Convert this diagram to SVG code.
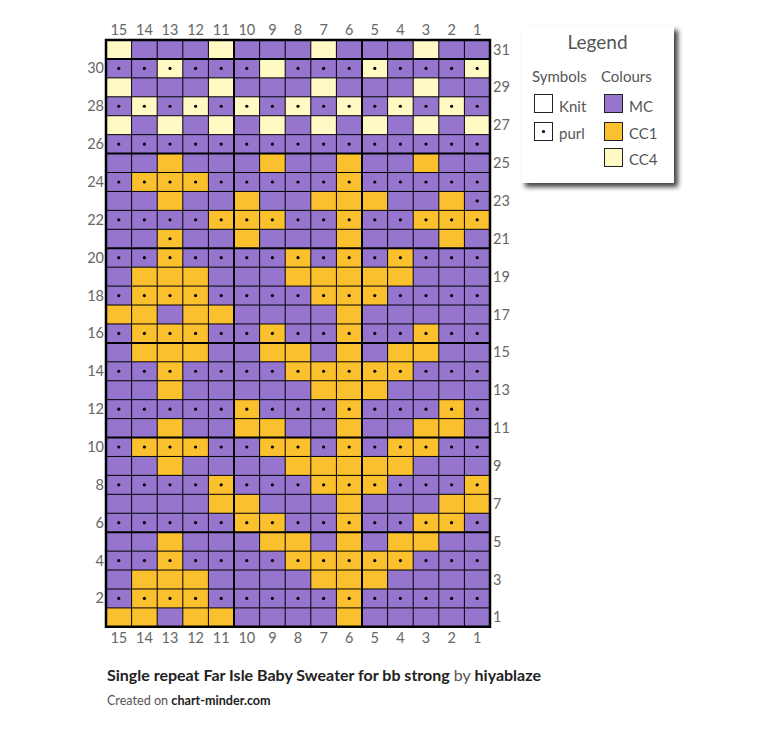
<svg xmlns="http://www.w3.org/2000/svg" xmlns:xlink="http://www.w3.org/1999/xlink" width="764" height="731" viewBox="0 0 764 731">
<style>
.o{fill:#FBC02D}
.y{fill:#FFF9C4}
.lbl{font-family:Lato,"Open Sans",sans-serif;font-size:14.5px;fill:#666}
.lt{font-family:Lato,"Open Sans",sans-serif;fill:#555}
.thin{fill:none;stroke:#000;stroke-width:1}
.thick{fill:none;stroke:#000;stroke-width:2}
.box{stroke:#222;stroke-width:1}
</style>
<defs>
<ellipse id="d" cx="0" cy="0" rx="0.0625" ry="0.0845" fill="#000"/>
<g id="dr">
<use xlink:href="#d" x="0.5" y="0.5"/><use xlink:href="#d" x="1.5" y="0.5"/><use xlink:href="#d" x="2.5" y="0.5"/><use xlink:href="#d" x="3.5" y="0.5"/><use xlink:href="#d" x="4.5" y="0.5"/><use xlink:href="#d" x="5.5" y="0.5"/><use xlink:href="#d" x="6.5" y="0.5"/><use xlink:href="#d" x="7.5" y="0.5"/><use xlink:href="#d" x="8.5" y="0.5"/><use xlink:href="#d" x="9.5" y="0.5"/><use xlink:href="#d" x="10.5" y="0.5"/><use xlink:href="#d" x="11.5" y="0.5"/><use xlink:href="#d" x="12.5" y="0.5"/><use xlink:href="#d" x="13.5" y="0.5"/><use xlink:href="#d" x="14.5" y="0.5"/>
</g>
<filter id="sh" x="-20%" y="-20%" width="150%" height="150%">
<feDropShadow dx="4" dy="4" stdDeviation="2.5" flood-color="#000" flood-opacity="0.75"/>
</filter>
</defs>
<rect width="764" height="731" fill="#fff"/>
<g id="chart" transform="translate(106,40) scale(25.6,18.93)">
<rect x="0" y="0" width="15" height="31" fill="#9575CD"/>
<g id="cells">
<rect class="y" x="0" y="0" width="1" height="1"/><rect class="y" x="4" y="0" width="1" height="1"/><rect class="y" x="8" y="0" width="1" height="1"/><rect class="y" x="12" y="0" width="1" height="1"/>
<rect class="y" x="2" y="1" width="1" height="1"/><rect class="y" x="6" y="1" width="1" height="1"/><rect class="y" x="10" y="1" width="1" height="1"/><rect class="y" x="14" y="1" width="1" height="1"/>
<rect class="y" x="0" y="2" width="1" height="1"/><rect class="y" x="4" y="2" width="1" height="1"/><rect class="y" x="8" y="2" width="1" height="1"/><rect class="y" x="12" y="2" width="1" height="1"/>
<rect class="y" x="1" y="3" width="1" height="1"/><rect class="y" x="3" y="3" width="1" height="1"/><rect class="y" x="5" y="3" width="1" height="1"/><rect class="y" x="7" y="3" width="1" height="1"/><rect class="y" x="9" y="3" width="1" height="1"/><rect class="y" x="11" y="3" width="1" height="1"/><rect class="y" x="13" y="3" width="1" height="1"/>
<rect class="y" x="0" y="4" width="1" height="1"/><rect class="y" x="2" y="4" width="1" height="1"/><rect class="y" x="4" y="4" width="1" height="1"/><rect class="y" x="6" y="4" width="1" height="1"/><rect class="y" x="8" y="4" width="1" height="1"/><rect class="y" x="10" y="4" width="1" height="1"/><rect class="y" x="12" y="4" width="1" height="1"/><rect class="y" x="14" y="4" width="1" height="1"/>
<rect class="o" x="9" y="6" width="1" height="25"/>
<rect class="o" x="2" y="6" width="1" height="1"/><rect class="o" x="6" y="6" width="1" height="1"/><rect class="o" x="12" y="6" width="1" height="1"/>
<rect class="o" x="1" y="7" width="3" height="1"/>
<rect class="o" x="2" y="8" width="1" height="1"/><rect class="o" x="5" y="8" width="1" height="1"/><rect class="o" x="8" y="8" width="3" height="1"/><rect class="o" x="13" y="8" width="1" height="1"/>
<rect class="o" x="4" y="9" width="3" height="1"/><rect class="o" x="12" y="9" width="3" height="1"/>
<rect class="o" x="2" y="10" width="1" height="1"/><rect class="o" x="5" y="10" width="1" height="1"/><rect class="o" x="13" y="10" width="1" height="1"/>
<rect class="o" x="2" y="11" width="1" height="1"/><rect class="o" x="7" y="11" width="1" height="1"/><rect class="o" x="11" y="11" width="1" height="1"/>
<rect class="o" x="1" y="12" width="3" height="1"/><rect class="o" x="7" y="12" width="5" height="1"/>
<rect class="o" x="1" y="13" width="3" height="1"/><rect class="o" x="8" y="13" width="3" height="1"/>
<rect class="o" x="0" y="14" width="2" height="1"/><rect class="o" x="3" y="14" width="2" height="1"/>
<rect class="o" x="1" y="15" width="3" height="1"/><rect class="o" x="6" y="15" width="1" height="1"/><rect class="o" x="12" y="15" width="1" height="1"/>
<rect class="o" x="1" y="16" width="3" height="1"/><rect class="o" x="6" y="16" width="2" height="1"/><rect class="o" x="11" y="16" width="2" height="1"/>
<rect class="o" x="2" y="17" width="1" height="1"/><rect class="o" x="7" y="17" width="5" height="1"/>
<rect class="o" x="2" y="18" width="1" height="1"/><rect class="o" x="8" y="18" width="3" height="1"/>
<rect class="o" x="5" y="19" width="1" height="1"/><rect class="o" x="13" y="19" width="1" height="1"/>
<rect class="o" x="2" y="20" width="1" height="1"/><rect class="o" x="5" y="20" width="2" height="1"/><rect class="o" x="12" y="20" width="2" height="1"/>
<rect class="o" x="1" y="21" width="3" height="1"/><rect class="o" x="6" y="21" width="2" height="1"/><rect class="o" x="11" y="21" width="2" height="1"/>
<rect class="o" x="2" y="22" width="1" height="1"/><rect class="o" x="7" y="22" width="5" height="1"/>
<rect class="o" x="4" y="23" width="1" height="1"/><rect class="o" x="8" y="23" width="3" height="1"/><rect class="o" x="14" y="23" width="1" height="1"/>
<rect class="o" x="4" y="24" width="2" height="1"/><rect class="o" x="13" y="24" width="2" height="1"/>
<rect class="o" x="5" y="25" width="2" height="1"/><rect class="o" x="12" y="25" width="2" height="1"/>
<rect class="o" x="2" y="26" width="1" height="1"/><rect class="o" x="6" y="26" width="2" height="1"/><rect class="o" x="11" y="26" width="2" height="1"/>
<rect class="o" x="2" y="27" width="1" height="1"/><rect class="o" x="7" y="27" width="5" height="1"/>
<rect class="o" x="1" y="28" width="3" height="1"/><rect class="o" x="8" y="28" width="3" height="1"/>
<rect class="o" x="1" y="29" width="3" height="1"/>
<rect class="o" x="0" y="30" width="2" height="1"/><rect class="o" x="3" y="30" width="2" height="1"/>
</g>
<g id="dots">
<use xlink:href="#d" x="0.5" y="1.5"/><use xlink:href="#d" x="1.5" y="1.5"/><use xlink:href="#d" x="2.5" y="1.5"/><use xlink:href="#d" x="3.5" y="1.5"/><use xlink:href="#d" x="4.5" y="1.5"/><use xlink:href="#d" x="5.5" y="1.5"/><use xlink:href="#d" x="7.5" y="1.5"/><use xlink:href="#d" x="8.5" y="1.5"/><use xlink:href="#d" x="9.5" y="1.5"/><use xlink:href="#d" x="10.5" y="1.5"/><use xlink:href="#d" x="11.5" y="1.5"/><use xlink:href="#d" x="12.5" y="1.5"/><use xlink:href="#d" x="13.5" y="1.5"/><use xlink:href="#d" x="14.5" y="1.5"/>
<use xlink:href="#dr" y="3"/><use xlink:href="#dr" y="5"/><use xlink:href="#dr" y="7"/><use xlink:href="#dr" y="9"/><use xlink:href="#dr" y="11"/><use xlink:href="#dr" y="13"/><use xlink:href="#dr" y="15"/><use xlink:href="#dr" y="17"/><use xlink:href="#dr" y="19"/><use xlink:href="#dr" y="21"/><use xlink:href="#dr" y="23"/><use xlink:href="#dr" y="25"/><use xlink:href="#dr" y="27"/><use xlink:href="#dr" y="29"/>
<use xlink:href="#d" x="14.5" y="8.5"/><use xlink:href="#d" x="2.5" y="10.5"/>
</g>
<g id="gridlines">
<path class="thin" vector-effect="non-scaling-stroke" d="M1 0V31M2 0V31M3 0V31M4 0V31M6 0V31M7 0V31M8 0V31M9 0V31M11 0V31M12 0V31M13 0V31M14 0V31M0 2H15M0 3H15M0 4H15M0 5H15M0 7H15M0 8H15M0 9H15M0 10H15M0 12H15M0 13H15M0 14H15M0 15H15M0 17H15M0 18H15M0 19H15M0 20H15M0 22H15M0 23H15M0 24H15M0 25H15M0 27H15M0 28H15M0 29H15M0 30H15"/>
<path class="thick" vector-effect="non-scaling-stroke" d="M5 0V31M10 0V31M0 1H15M0 6H15M0 11H15M0 16H15M0 21H15M0 26H15"/>
<rect x="0" y="0" width="15" height="31" fill="none" stroke="#000" stroke-width="2.5" vector-effect="non-scaling-stroke"/>
</g>
</g>
<g id="col-labels-top" class="lbl" text-anchor="middle">
<text x="118.8" y="35">15</text><text x="144.4" y="35">14</text><text x="170" y="35">13</text><text x="195.6" y="35">12</text><text x="221.2" y="35">11</text><text x="246.8" y="35">10</text><text x="272.4" y="35">9</text><text x="298" y="35">8</text><text x="323.6" y="35">7</text><text x="349.2" y="35">6</text><text x="374.8" y="35">5</text><text x="400.4" y="35">4</text><text x="426" y="35">3</text><text x="451.6" y="35">2</text><text x="477.2" y="35">1</text>
</g>
<g id="col-labels-bottom" class="lbl" text-anchor="middle">
<text x="118.8" y="643">15</text><text x="144.4" y="643">14</text><text x="170" y="643">13</text><text x="195.6" y="643">12</text><text x="221.2" y="643">11</text><text x="246.8" y="643">10</text><text x="272.4" y="643">9</text><text x="298" y="643">8</text><text x="323.6" y="643">7</text><text x="349.2" y="643">6</text><text x="374.8" y="643">5</text><text x="400.4" y="643">4</text><text x="426" y="643">3</text><text x="451.6" y="643">2</text><text x="477.2" y="643">1</text>
</g>
<g id="row-labels-left" class="lbl" text-anchor="end">
<text x="104" y="73.4">30</text><text x="104" y="111.3">28</text><text x="104" y="149.1">26</text><text x="104" y="187">24</text><text x="104" y="224.8">22</text><text x="104" y="262.7">20</text><text x="104" y="300.6">18</text><text x="104" y="338.4">16</text><text x="104" y="376.3">14</text><text x="104" y="414.1">12</text><text x="104" y="452">10</text><text x="104" y="489.9">8</text><text x="104" y="527.7">6</text><text x="104" y="565.6">4</text><text x="104" y="603.4">2</text>
</g>
<g id="row-labels-right" class="lbl">
<text x="493" y="54.5">31</text><text x="493" y="92.3">29</text><text x="493" y="130.2">27</text><text x="493" y="168">25</text><text x="493" y="205.9">23</text><text x="493" y="243.8">21</text><text x="493" y="281.6">19</text><text x="493" y="319.5">17</text><text x="493" y="357.3">15</text><text x="493" y="395.2">13</text><text x="493" y="433.1">11</text><text x="493" y="470.9">9</text><text x="493" y="508.8">7</text><text x="493" y="546.6">5</text><text x="493" y="584.5">3</text><text x="493" y="622.4">1</text>
</g>
<g id="legend">
<rect x="521" y="26" width="153" height="157" fill="#fff" filter="url(#sh)"/>
<text class="lt" x="597.5" y="49" font-size="19" text-anchor="middle">Legend</text>
<text class="lt" x="532" y="82" font-size="15">Symbols</text>
<text class="lt" x="601" y="82" font-size="15">Colours</text>
<rect class="box" x="534.5" y="94.5" width="18" height="18" fill="#fff"/>
<text class="lt" x="559" y="111.5" font-size="15">Knit</text>
<rect class="box" x="534.5" y="122.5" width="18" height="18" fill="#fff"/>
<circle cx="543.5" cy="131.5" r="1.6" fill="#000"/>
<text class="lt" x="559" y="138.5" font-size="15">purl</text>
<rect class="box" x="604.5" y="94.5" width="18" height="18" fill="#9575CD"/>
<text class="lt" x="629" y="111.5" font-size="15">MC</text>
<rect class="box o" x="604.5" y="122.5" width="18" height="18"/>
<text class="lt" x="629" y="138.5" font-size="15">CC1</text>
<rect class="box y" x="604.5" y="148.5" width="18" height="18"/>
<text class="lt" x="629" y="165" font-size="15">CC4</text>
</g>
<g id="caption" font-family="Lato,'Open Sans',sans-serif">
<text x="107" y="680.5" font-size="16" fill="#222"><tspan font-weight="bold">Single repeat Far Isle Baby Sweater for bb strong</tspan><tspan fill="#555"> by </tspan><tspan font-weight="bold">hiyablaze</tspan></text>
<text x="107" y="705" font-size="12.6" fill="#555">Created on <tspan font-weight="bold" fill="#222">chart-minder.com</tspan></text>
</g>
</svg>
